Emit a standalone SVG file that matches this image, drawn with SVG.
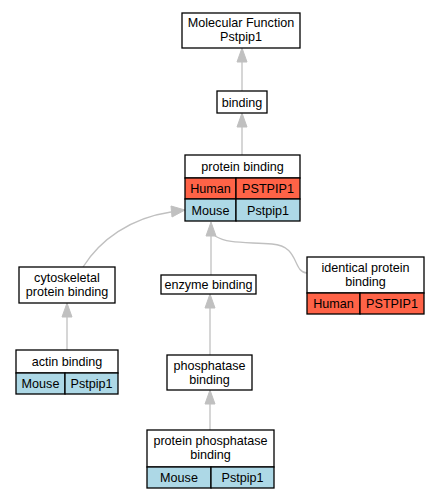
<svg xmlns="http://www.w3.org/2000/svg" width="439" height="499" viewBox="0 0 439 499">
<style>
text{font-family:"Liberation Sans",Arial,sans-serif;font-size:12.6px;fill:#000;text-anchor:middle}
.box{fill:#fff;stroke:#000;stroke-width:1.3}
.hum{fill:#ff6347;stroke:#000;stroke-width:1.3}
.mou{fill:#add8e6;stroke:#000;stroke-width:1.3}
.edge{fill:none;stroke:#c0c0c0;stroke-width:1.3}
.ah{fill:#c0c0c0;stroke:#c0c0c0}
</style>
<rect width="439" height="499" fill="#fff"/>
<g id="edges">
<path class="edge" d="M242,91 L242,62"/>
<polygon class="ah" points="242,48 237,62 247,62"/>
<path class="edge" d="M242,155 L242,127"/>
<polygon class="ah" points="242,113 237,127 247,127"/>
<path class="edge" d="M83,267 C100,240 130,218 171,212"/>
<polygon class="ah" points="185,210 171,206 172,217"/>
<path class="edge" d="M211,275 L211,236"/>
<polygon class="ah" points="211,222 206,236 216,236"/>
<path class="edge" d="M307,273 C292,272 300,246 272,244 C245,242 228,244 215,236"/>
<path class="edge" d="M67,350 L67,317"/>
<polygon class="ah" points="67,303 62,317 72,317"/>
<path class="edge" d="M210,355 L210,308"/>
<polygon class="ah" points="210,294 205,308 215,308"/>
<path class="edge" d="M210,430 L210,404"/>
<polygon class="ah" points="210,390 205,404 215,404"/>
</g>
<g id="mf">
<rect class="box" x="182" y="13" width="118" height="35"/>
<text x="241" y="27">Molecular Function</text>
<text x="241" y="41">Pstpip1</text>
</g>
<g id="binding">
<rect class="box" x="217" y="91" width="50" height="22"/>
<text x="242" y="106.5">binding</text>
</g>
<g id="protein_binding">
<rect class="box" x="185" y="155" width="115" height="23"/>
<text x="242.5" y="170.5">protein binding</text>
<rect class="hum" x="185" y="178" width="51" height="21"/>
<rect class="hum" x="236" y="178" width="64" height="21"/>
<text x="210.5" y="193">Human</text>
<text x="268" y="193">PSTPIP1</text>
<rect class="mou" x="185" y="199" width="51" height="22"/>
<rect class="mou" x="236" y="199" width="64" height="22"/>
<text x="210.5" y="214.5">Mouse</text>
<text x="268" y="214.5">Pstpip1</text>
</g>
<g id="cytoskeletal">
<rect class="box" x="19" y="267" width="96" height="36"/>
<text x="67" y="281.5">cytoskeletal</text>
<text x="67" y="295.5">protein binding</text>
</g>
<g id="enzyme">
<rect class="box" x="161" y="275" width="95" height="19"/>
<text x="208.5" y="289">enzyme binding</text>
</g>
<g id="identical">
<rect class="box" x="307" y="257" width="117" height="36"/>
<text x="365.5" y="271.5">identical protein</text>
<text x="365.5" y="285.5">binding</text>
<rect class="hum" x="307" y="293" width="53" height="21"/>
<rect class="hum" x="360" y="293" width="64" height="21"/>
<text x="333.5" y="308">Human</text>
<text x="392" y="308">PSTPIP1</text>
</g>
<g id="actin">
<rect class="box" x="16" y="350" width="102" height="23"/>
<text x="67" y="365.5">actin binding</text>
<rect class="mou" x="16" y="373" width="49" height="21"/>
<rect class="mou" x="65" y="373" width="53" height="21"/>
<text x="40.5" y="388">Mouse</text>
<text x="91.5" y="388">Pstpip1</text>
</g>
<g id="phosphatase">
<rect class="box" x="167" y="355" width="85" height="35"/>
<text x="209.5" y="369.5">phosphatase</text>
<text x="209.5" y="383.5">binding</text>
</g>
<g id="protein_phosphatase">
<rect class="box" x="147" y="430" width="127" height="37"/>
<text x="210.5" y="444.5">protein phosphatase</text>
<text x="210.5" y="458.5">binding</text>
<rect class="mou" x="147" y="467" width="64" height="21"/>
<rect class="mou" x="211" y="467" width="63" height="21"/>
<text x="179" y="482">Mouse</text>
<text x="242.5" y="482">Pstpip1</text>
</g>
</svg>
